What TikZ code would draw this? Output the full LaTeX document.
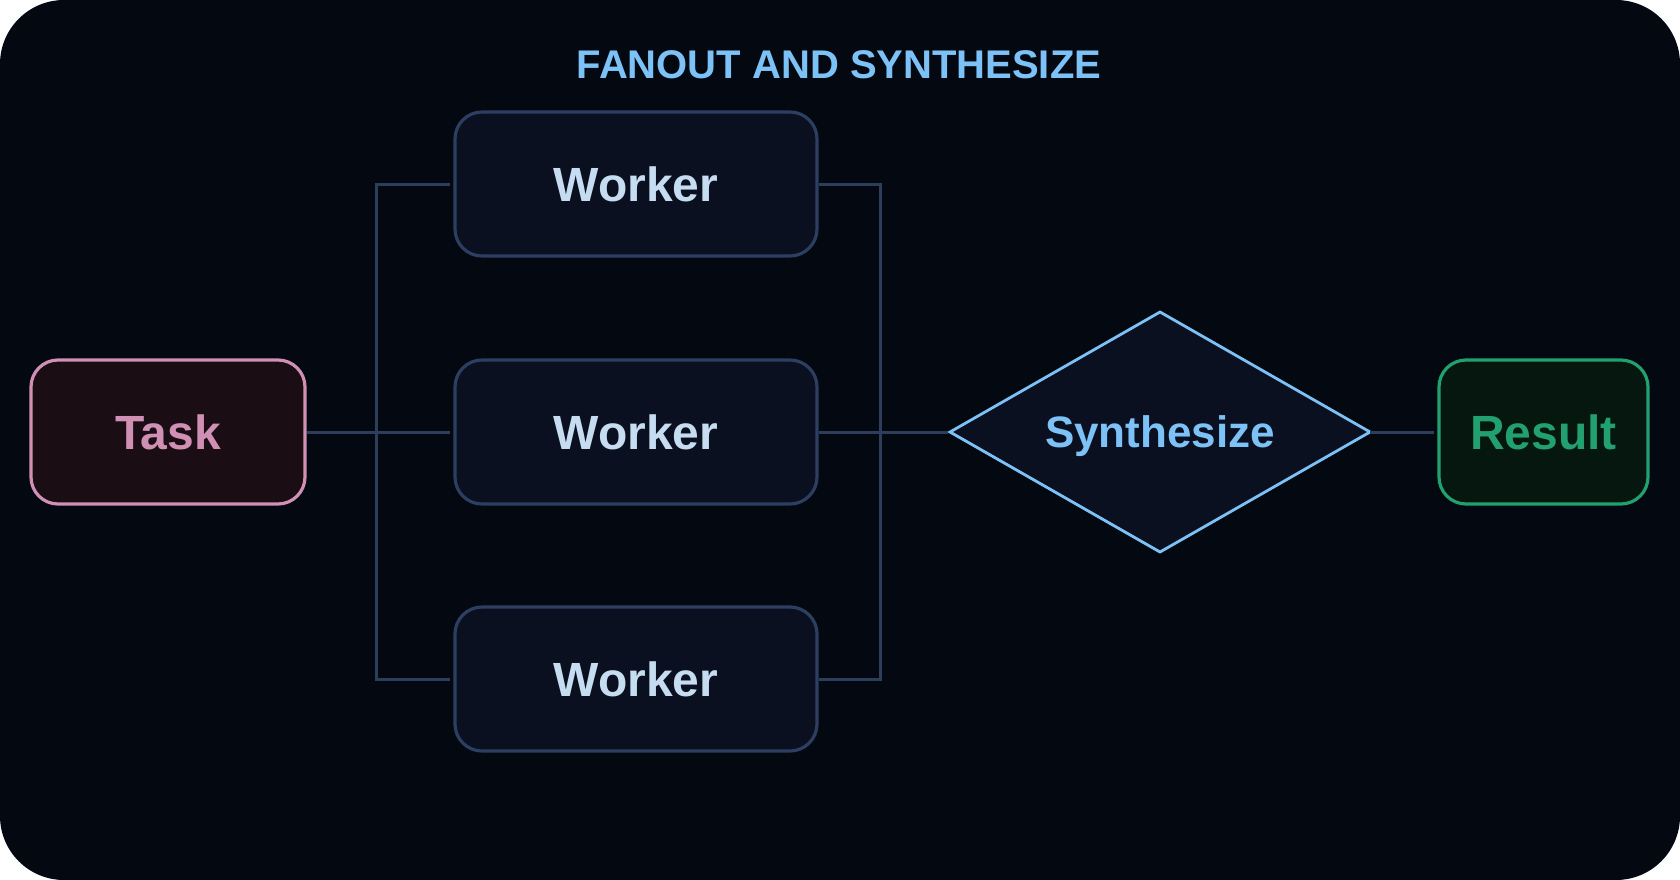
\documentclass[tikz,border=0pt]{standalone}
\usepackage{fontspec}
\setmainfont{Liberation Sans}
\usetikzlibrary{shapes.geometric}
\definecolor{bgc}{HTML}{040810}
\definecolor{wfill}{HTML}{0B1020}
\definecolor{wdraw}{HTML}{2C3F60}
\definecolor{wtext}{HTML}{C6DCF0}
\definecolor{conn}{HTML}{2D3E5C}
\definecolor{tdraw}{HTML}{D090B4}
\definecolor{tfill}{HTML}{1A0D14}
\definecolor{sblue}{HTML}{7CC2F7}
\definecolor{rgreen}{HTML}{22A070}
\definecolor{rfill}{HTML}{06170F}
\tikzset{
  box/.style={rounded corners=27pt, line width=3.2pt, minimum height=144pt, inner sep=0pt,
    font=\fontsize{48}{56}\selectfont\bfseries, text height=34.4pt, text depth=0pt},
  workerbox/.style={box, draw=wdraw, fill=wfill, text=wtext, minimum width=362pt},
  taskbox/.style={box, draw=tdraw, fill=tfill, text=tdraw, minimum width=274pt},
  resultbox/.style={box, draw=rgreen, fill=rfill, text=rgreen, minimum width=209pt},
  synth/.style={diamond, aspect=1.75, draw=sblue, fill=wfill, text=sblue, line width=2.8pt,
    minimum width=420pt, minimum height=240pt, inner sep=0pt, outer sep=0pt,
    font=\fontsize{44}{52}\selectfont\bfseries, text height=31.5pt, text depth=0pt},
  wire/.style={draw=conn, line width=3pt},
  titlestyle/.style={text=sblue, font=\fontsize{40}{48}\selectfont\bfseries, inner sep=0pt}
}
\begin{document}
\begin{tikzpicture}[x=1pt,y=-1pt]
\useasboundingbox (0,0) rectangle (1680,880);
\fill[bgc, rounded corners=64pt] (0,0) rectangle (1680,880);

\node[titlestyle, anchor=base] (title) at (839,78.5) {FANOUT AND SYNTHESIZE};

\node[taskbox] (task) at (168,432) {Task};
\node[workerbox] (w1) at (636,184) {Worker};
\node[workerbox] (w2) at (636,432) {Worker};
\node[workerbox] (w3) at (636,679) {Worker};
\node[synth] (syn) at (1160,432) {Synthesize};
\node[resultbox] (res) at (1543.5,432) {Result};

\coordinate (busL) at (376,432);
\coordinate (busR) at (880,432);

\draw[wire, shorten >=3pt] (task.east) -- (w2.west);
\draw[wire] ([xshift=-3pt]w1.west) -| (busL) |- ([xshift=-3pt]w3.west);
\draw[wire] (w1.east) -| (busR) |- (w3.east);
\draw[wire, shorten >=2pt] (w2.east) -- (syn.west);
\draw[wire, shorten >=3pt] (syn.east) -- (res.west);
\end{tikzpicture}
\end{document}
